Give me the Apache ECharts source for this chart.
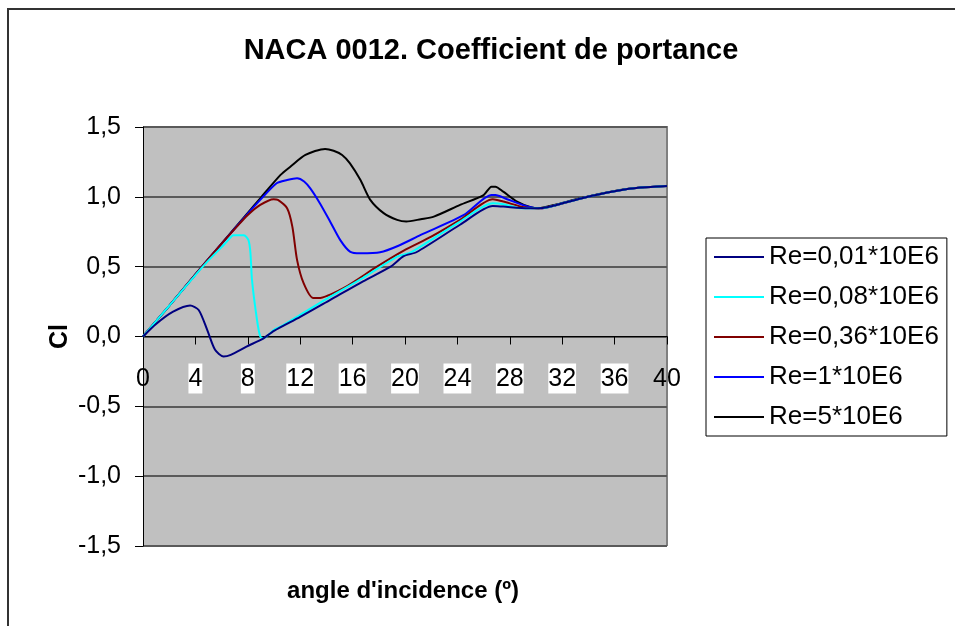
<!DOCTYPE html>
<html>
<head>
<meta charset="utf-8">
<title>NACA 0012. Coefficient de portance</title>
<script src="https://cdn.jsdelivr.net/npm/echarts@6/dist/echarts.min.js"></script>
<style>
  html, body { margin: 0; padding: 0; background: #fff; }
  #main { width: 955px; height: 626px; }
</style>
</head>
<body>
<div id="main"></div>
<script>
// angles (deg) and lift coefficient, one pair of arrays per curve
const angle001 = [0, 1, 2.3, 3.6, 4.25, 4.9, 5.5, 6.15, 6.7, 7.9, 9.1, 10, 12, 14.3, 16.8, 18.9, 19.9, 20.9, 24.2, 26.7, 27.5, 29.4, 30.5, 31.5, 33.5, 36, 38, 40]
const cl001 = [0, 0.09, 0.178, 0.222, 0.19, 0.048, -0.095, -0.143, -0.131, -0.072, -0.019, 0.04, 0.14, 0.262, 0.395, 0.5, 0.575, 0.605, 0.8, 0.935, 0.93, 0.918, 0.92, 0.94, 0.99, 1.04, 1.066, 1.078]

const angle008 = [0, 2, 4, 5, 6, 6.5, 6.9, 7.7, 8.05, 8.2, 8.32, 8.7, 8.95, 9.2, 10, 10.5, 12, 14.3, 16.8, 19.4, 20.4, 24.2, 26.7, 27.4, 28.9, 30.5, 31.5, 33.5, 36, 38, 40]
const cl008 = [0, 0.22, 0.44, 0.545, 0.64, 0.69, 0.725, 0.725, 0.69, 0.6, 0.405, 0.12, 0, -0.012, 0.048, 0.07, 0.155, 0.286, 0.42, 0.572, 0.6, 0.823, 0.954, 0.949, 0.918, 0.92, 0.94, 0.99, 1.04, 1.066, 1.078]

const angle036 = [0, 2, 4, 6, 7.2, 8, 8.95, 9.97, 10.3, 11, 11.4, 11.76, 12.26, 13, 13.4, 15.3, 17.86, 19.9, 22, 24.2, 26.7, 27.5, 29.1, 30.3, 31.5, 33.5, 36, 38, 40]
const cl036 = [0, 0.22, 0.445, 0.665, 0.79, 0.87, 0.942, 0.983, 0.978, 0.918, 0.787, 0.549, 0.382, 0.275, 0.275, 0.346, 0.5, 0.615, 0.715, 0.835, 0.983, 0.966, 0.925, 0.918, 0.94, 0.99, 1.04, 1.066, 1.078]

const angle1 = [0, 2, 4, 6, 8, 8.95, 10.2, 11, 11.76, 12.3, 12.77, 13.5, 14.3, 15.06, 15.8, 16.6, 18.1, 19.5, 21.2, 24.5, 26.6, 26.9, 27.8, 29.4, 30.4, 31.5, 33.5, 36, 38, 40]
const cl1 = [0, 0.22, 0.445, 0.665, 0.88, 0.978, 1.097, 1.12, 1.133, 1.11, 1.06, 0.954, 0.82, 0.69, 0.608, 0.596, 0.603, 0.65, 0.727, 0.87, 1.013, 1.013, 0.983, 0.93, 0.918, 0.94, 0.99, 1.04, 1.066, 1.078]

const angle5 = [0, 2, 4, 6, 8, 9, 10.5, 11.25, 12.4, 13.9, 14.55, 15.2, 15.8, 16.6, 17.35, 18.37, 19.4, 20.1, 21.2, 22.2, 24.2, 26, 26.6, 26.9, 27.5, 28.55, 29.6, 30.2, 31.4, 33.4, 36, 38, 40]
const cl5 = [0, 0.22, 0.445, 0.665, 0.885, 0.995, 1.157, 1.216, 1.3, 1.343, 1.33, 1.3, 1.24, 1.12, 0.978, 0.883, 0.835, 0.823, 0.84, 0.858, 0.942, 1.013, 1.073, 1.073, 1.037, 0.966, 0.925, 0.918, 0.942, 0.99, 1.042, 1.066, 1.078]

const seriesNames = ['Re=0,01*10E6', 'Re=0,08*10E6', 'Re=0,36*10E6', 'Re=1*10E6', 'Re=5*10E6']
const seriesColors = ['#000080', '#00FFFF', '#800000', '#0000FF', '#000000']

const pairs = (xs, ys) => xs.map((x, i) => [x, ys[i]])
const curves = [
  pairs(angle001, cl001),
  pairs(angle008, cl008),
  pairs(angle036, cl036),
  pairs(angle1, cl1),
  pairs(angle5, cl5)
]

const font = '"Liberation Sans", Arial, sans-serif'

// plot box (px)
const plotTop = 127
const plotBottom = 80
const plotHeight = 626 - plotTop - plotBottom
const yMin = -1.5
const yMax = 1.5

var myChart = echarts.init(document.getElementById('main'))

var option = {
  animation: false,
  textStyle: { fontFamily: font },
  title: {
    text: 'NACA 0012. Coefficient de portance',
    left: 486,
    top: 31,
    textAlign: 'center',
    textStyle: { fontSize: 29, fontWeight: 'bold', color: '#000', fontFamily: font }
  },
  graphic: [
    {
      type: 'rect',
      shape: { x: 8, y: 9, width: 960, height: 630 },
      style: { fill: 'none', stroke: '#333', lineWidth: 2 },
      silent: true
    },
    {
      // plot area top/right border
      type: 'polyline',
      shape: { points: [[143, 127], [667, 127], [667, 546]] },
      style: { stroke: '#808080', lineWidth: 2, fill: 'none' },
      silent: true
    },
    {
      // x axis title, under the plot
      type: 'text',
      x: 403,
      y: 579,
      style: {
        text: "angle d'incidence (º)",
        fontSize: 24,
        fontWeight: 'bold',
        fill: '#000',
        fontFamily: font,
        align: 'center',
        verticalAlign: 'top'
      },
      silent: true
    }
  ],
  legend: {
    orient: 'vertical',
    left: 706,
    top: 238,
    padding: [6, 8, 6, 8],
    icon: 'rect',
    itemWidth: 50,
    itemHeight: 2,
    itemGap: 14,
    borderColor: '#000',
    borderWidth: 1,
    data: seriesNames,
    textStyle: { fontSize: 26, lineHeight: 26, color: '#000', fontFamily: font }
  },
  grid: {
    left: 143,
    right: 288,
    top: plotTop,
    bottom: plotBottom,
    show: true,
    backgroundColor: '#C0C0C0',
    borderWidth: 0
  },
  xAxis: {
    type: 'value',
    min: 0,
    max: 40,
    interval: 4,
    // keep line, ticks and labels on the Cl = 0 line
    offset: -plotHeight * (0 - yMin) / (yMax - yMin),
    axisLine: { onZero: false, lineStyle: { color: '#000', width: 1 } },
    axisTick: { show: true, length: 8, lineStyle: { color: '#000' } },
    splitLine: { show: false },
    axisLabel: {
      margin: 27,
      formatter: (v) => (v === 0 || v === 40) ? '{g|' + v + '}' : '{w|' + v + '}',
      rich: {
        w: { fontSize: 25, color: '#000', backgroundColor: '#fff', padding: [3, 0, 2, 0], fontFamily: font },
        g: { fontSize: 25, color: '#000', padding: [3, 0, 2, 0], fontFamily: font }
      }
    }
  },
  yAxis: {
    type: 'value',
    min: yMin,
    max: yMax,
    interval: 0.5,
    name: 'Cl',
    nameLocation: 'middle',
    nameGap: 70,
    nameMoveOverlap: false,
    nameRotate: 90,
    nameTextStyle: { fontSize: 25, fontWeight: 'bold', color: '#000', fontFamily: font },
    axisLine: { show: true, lineStyle: { color: '#000', width: 1 } },
    axisTick: { show: true, length: 8, lineStyle: { color: '#000' } },
    axisLabel: {
      margin: 22,
      fontSize: 25,
      color: '#000',
      fontFamily: font,
      formatter: (v) => v.toFixed(1).replace('.', ',')
    },
    splitLine: { show: true, lineStyle: { color: '#5a5a5a', width: 2 } }
  },
  series: seriesNames.map((name, i) => ({
    name: name,
    type: 'line',
    data: curves[i],
    smooth: 0.25,
    symbol: 'none',
    z: 2 + (4 - i),
    color: seriesColors[i],
    lineStyle: { color: seriesColors[i], width: 2 }
  }))
}

myChart.setOption(option)
window.addEventListener('resize', () => {
  myChart.resize()
})
</script>
</body>
</html>
